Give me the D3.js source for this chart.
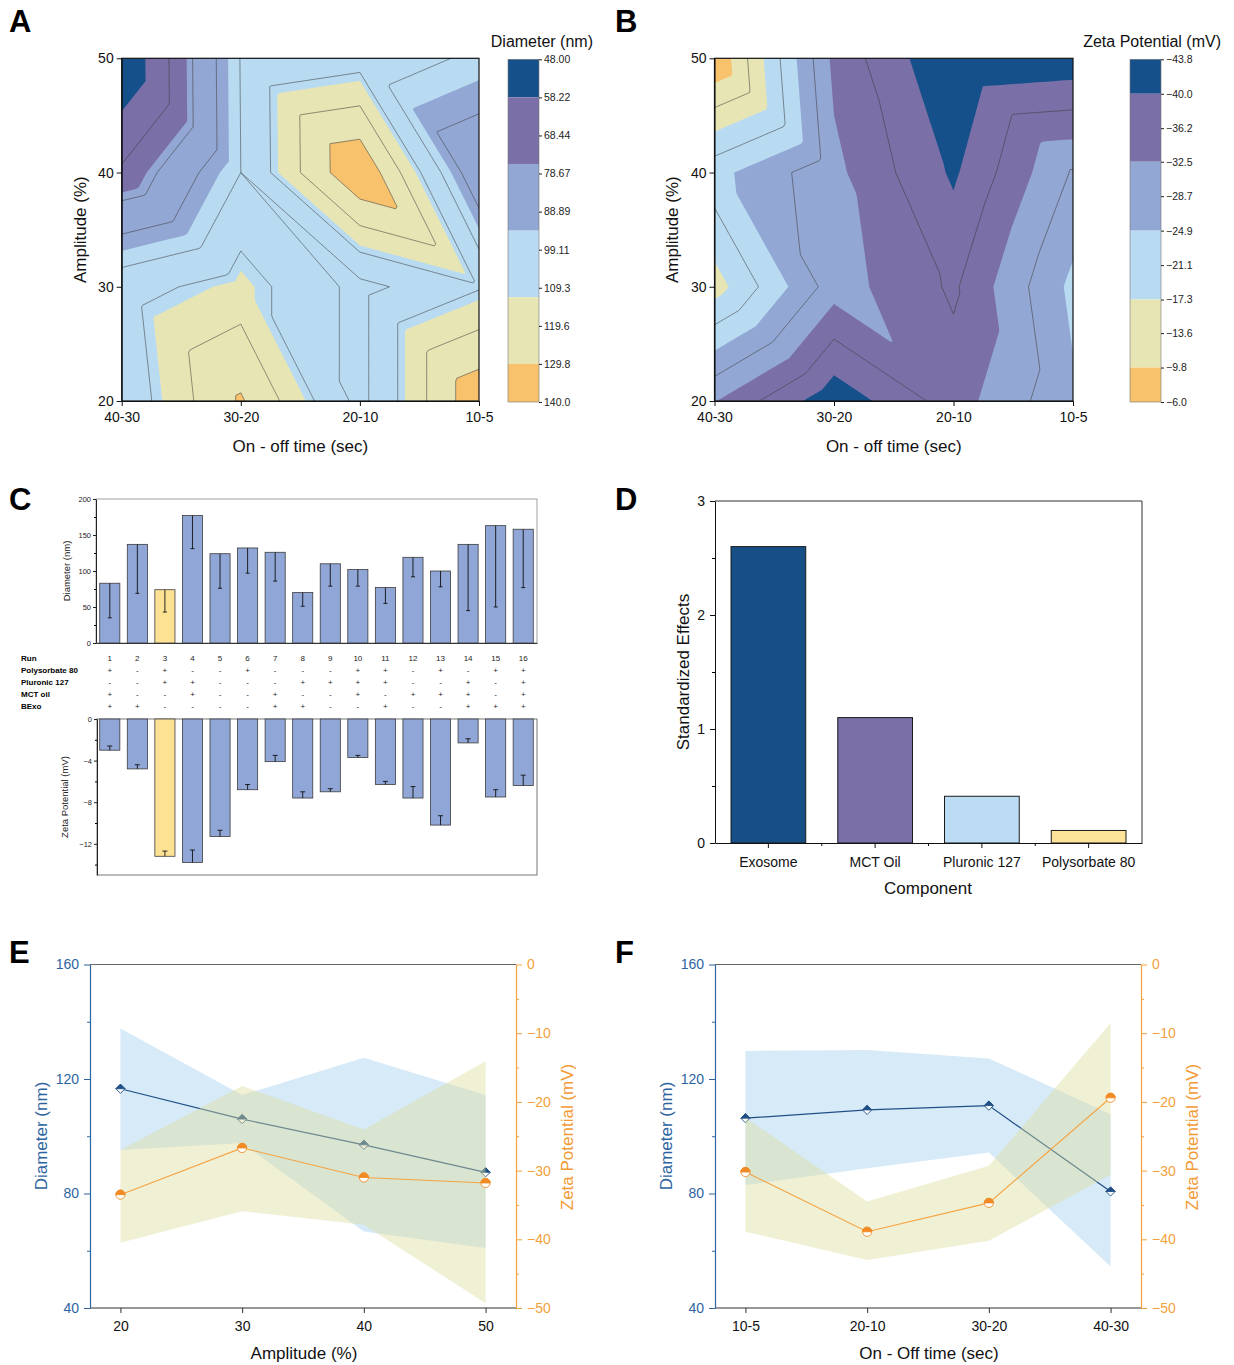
<!DOCTYPE html>
<html>
<head>
<meta charset="utf-8">
<title>Nanoformulation screening</title>
<script src="https://cdn.jsdelivr.net/npm/d3@7"></script>
<style>
  body { margin: 0; background: #fff; }
  svg text { font-family: "Liberation Sans", Arial, Helvetica, sans-serif; }
</style>
</head>
<body>
<svg id="fig" width="1234" height="1365"></svg>
<script>
// ---------- values ----------

// A / B contour maps: rows = amplitude 20,30,40,50 %, columns = on-off time
var timeLabels = ["40-30", "30-20", "20-10", "10-5"];
var ampLevels = [20, 30, 40, 50];
var diamGrid = [
  [102, 131, 96, 138],
  [105, 114, 96, 108.5],
  [70, 99.1, 140, 80],
  [48, 99.5, 105, 97.3]
];
var zetaGrid = [
  [-32.3, -42.7, -34.3, -25.6],
  [-15.5, -30.7, -36.8, -23.9],
  [-23.6, -31.5, -40.6, -28.3],
  [-6.0, -33.5, -43.8, -42.7]
];
var diamScaleTicks = [48.00, 58.22, 68.44, 78.67, 88.89, 99.11, 109.33, 119.56, 129.78, 140.0];
var diamScaleLabels = ["48.00", "58.22", "68.44", "78.67", "88.89", "99.11", "109.3", "119.6", "129.8", "140.0"];
var diamColorStops = [58.22, 76.1, 94.0, 111.9, 129.78];
var diamLineLevels = [68.44, 78.67, 88.89, 99.11, 109.33, 119.56, 129.78];
var zetaScaleTicks = [-43.8, -40.0, -36.2, -32.5, -28.7, -24.9, -21.1, -17.3, -13.6, -9.8, -6.0];
var zetaScaleLabels = ["\u221243.8", "\u221240.0", "\u221236.2", "\u221232.5", "\u221228.7", "\u221224.9",
                       "\u221221.1", "\u221217.3", "\u221213.6", "\u22129.8", "\u22126.0"];
var zetaColorStops = [-40.0, -32.5, -24.9, -17.3, -9.8];
var zetaLineLevels = [-36.2, -28.7, -21.1, -13.6];

// C: 16 screening runs
var runs = [1, 2, 3, 4, 5, 6, 7, 8, 9, 10, 11, 12, 13, 14, 15, 16];
var runDiameter = [83, 137, 74, 177, 124, 132, 126, 70, 110, 102, 77, 119, 100, 137, 163, 158];
var runDiameterErr = [48, 68, 31, 46, 48, 35, 40, 19, 31, 23, 22, 27, 22, 92, 113, 81];
var runZeta = [-3.0, -4.8, -13.2, -13.8, -11.3, -6.8, -4.1, -7.6, -7.0, -3.7, -6.3, -7.6, -10.2, -2.3, -7.5, -6.4];
var runZetaErr = [0.4, 0.4, 0.5, 1.2, 0.6, 0.5, 0.6, 0.6, 0.3, 0.2, 0.3, 1.1, 0.9, 0.4, 0.7, 1.0];
var highlightRun = 3;
var polysorbate80 = ["+", "-", "+", "-", "-", "+", "-", "-", "-", "+", "+", "-", "+", "-", "+", "+"];
var pluronic127 = ["-", "-", "+", "+", "-", "-", "-", "+", "+", "+", "+", "-", "-", "+", "-", "+"];
var mctOil = ["+", "-", "-", "+", "-", "-", "+", "-", "-", "+", "-", "+", "+", "+", "-", "+"];
var bexo = ["+", "+", "-", "-", "-", "-", "+", "+", "-", "-", "+", "-", "-", "+", "+", "+"];

// D: standardized effects
var components = ["Exosome", "MCT Oil", "Pluronic 127", "Polysorbate 80"];
var effects = [2.6, 1.1, 0.41, 0.11];

// E: amplitude sweep
var ampX = [20, 30, 40, 50];
var ampDiam = [116.6, 106, 97, 87.4];
var ampDiamLow = [95.2, 97.6, 66.7, 61];
var ampDiamHigh = [137.6, 114.4, 127.4, 114.4];
var ampZeta = [-33.5, -26.7, -31.0, -31.8];
var ampZetaLow = [-40.5, -35.9, -37.9, -49.3];
var ampZetaHigh = [-27.0, -17.7, -24.0, -14.1];

// F: on-off time sweep
var timeX = ["10-5", "20-10", "30-20", "40-30"];
var timeDiam = [106.3, 109.2, 110.7, 80.7];
var timeDiamLow = [83, 88.8, 94.3, 54.5];
var timeDiamHigh = [129.8, 130.1, 127.2, 107.7];
var timeZeta = [-30.2, -38.9, -34.7, -19.4];
var timeZetaLow = [-38.9, -43.0, -40.2, -30.6];
var timeZetaHigh = [-22.3, -34.5, -29.3, -8.5];

// ---------- styles ----------
var paletteFill = ["#16508a", "#7b6fa8", "#93a7d4", "#b8dbf2", "#e8e5b4", "#f8c16c"];
var componentColors = ["#154f85", "#7b6fa8", "#bcdcf3", "#fde39a"];
var blueDark = "#1f4f86", blueAxis = "#2e64a0", orange = "#f5a443", orangeDark = "#f08a24";

var svg = d3.select("#fig");

function styleAxis(g, color, size) {
  g.select(".domain").attr("stroke", color);
  g.selectAll(".tick line").attr("stroke", color);
  g.selectAll(".tick text").attr("fill", color).attr("font-size", size);
}

function vLabel(txt, cx, cy, size, color) {
  svg.append("text")
    .attr("transform", "translate(" + cx + "," + cy + ") rotate(-90)")
    .attr("text-anchor", "middle").attr("dy", "0.35em")
    .attr("font-size", size).attr("fill", color || "#111")
    .text(txt);
}

function hLabel(txt, cx, cy, size, color) {
  svg.append("text").attr("x", cx).attr("y", cy)
    .attr("text-anchor", "middle").attr("dy", "0.35em")
    .attr("font-size", size).attr("fill", color || "#111")
    .text(txt);
}

function letter(t, x, y) {
  svg.append("text").attr("x", x).attr("y", y)
    .attr("font-size", 31).attr("font-weight", "bold").text(t);
}

// piecewise-linear surface over the 4x4 grid ("\" triangulation), sampled for d3.contours
function triField(grid, n) {
  var vals = new Array(n * n);
  var k = (n - 1) / 3;
  for (var j = 0; j < n; j++) {
    for (var i = 0; i < n; i++) {
      var u = i / k, w = j / k;
      var c = Math.min(2, Math.floor(u)), r = Math.min(2, Math.floor(w));
      var fx = u - c, fy = w - r;
      var tl = grid[3 - r][c], tr = grid[3 - r][c + 1];
      var bl = grid[2 - r][c], br = grid[2 - r][c + 1];
      vals[j * n + i] = fx >= fy
        ? tl + fx * (tr - tl) + fy * (br - tr)
        : tl + fy * (bl - tl) + fx * (br - bl);
    }
  }
  return vals;
}

// ---------- A / B ----------
function contourPanel(o) {
  var n = 121;
  var x = d3.scalePoint().domain(timeLabels).range([o.left, o.right]);
  var y = d3.scaleLinear().domain([20, 50]).range([o.bottom, o.top]);
  var gx = d3.scaleLinear().domain([0.5, n - 0.5]).range([o.left, o.right]);
  var gy = d3.scaleLinear().domain([0.5, n - 0.5]).range([o.top, o.bottom]);
  var path = d3.geoPath(d3.geoTransform({
    point: function(px, py) { this.stream.point(gx(px), gy(py)); }
  }));
  var values = triField(o.grid, n);

  svg.append("clipPath").attr("id", o.id).append("rect")
    .attr("x", o.left).attr("y", o.top)
    .attr("width", o.right - o.left).attr("height", o.bottom - o.top);
  var body = svg.append("g").attr("clip-path", "url(#" + o.id + ")");

  body.append("rect")
    .attr("x", o.left).attr("y", o.top)
    .attr("width", o.right - o.left).attr("height", o.bottom - o.top)
    .attr("fill", paletteFill[0]);

  body.selectAll(".band")
    .data(d3.contours().size([n, n]).thresholds(o.stops)(values))
    .enter().append("path")
    .attr("class", "band")
    .attr("d", path)
    .attr("fill", function(d, i) { return paletteFill[i + 1]; });

  body.selectAll(".iso")
    .data(d3.contours().size([n, n]).thresholds(o.lines)(values))
    .enter().append("path")
    .attr("class", "iso")
    .attr("d", path)
    .attr("fill", "none")
    .attr("stroke", "#3a3a3a")
    .attr("stroke-width", 0.55);

  svg.append("rect")
    .attr("x", o.left).attr("y", o.top)
    .attr("width", o.right - o.left).attr("height", o.bottom - o.top)
    .attr("fill", "none").attr("stroke", "#111").attr("stroke-width", 1.2);

  var ax = svg.append("g")
    .attr("transform", "translate(0," + o.bottom + ")")
    .call(d3.axisBottom(x).tickSize(5).tickSizeOuter(0).tickPadding(6));
  styleAxis(ax, "#111", 14);
  var ay = svg.append("g")
    .attr("transform", "translate(" + o.left + ",0)")
    .call(d3.axisLeft(y).tickValues(ampLevels).tickSize(5).tickSizeOuter(0).tickPadding(3));
  styleAxis(ay, "#111", 14);

  vLabel("Amplitude (%)", o.left - 42, (o.top + o.bottom) / 2, 17);
  hLabel("On - off time (sec)", (o.left + o.right) / 2, 446, 17);

  // colour scale bar
  var lo = o.ticks[0], hi = o.ticks[o.ticks.length - 1];
  var cb = d3.scaleLinear().domain([lo, hi]).range([o.top + 1, o.bottom + 1]);
  var edges = [lo].concat(o.stops, [hi]);
  svg.selectAll(null).data(paletteFill).enter().append("rect")
    .attr("x", o.cbX).attr("width", 31)
    .attr("y", function(d, i) { return cb(edges[i]); })
    .attr("height", function(d, i) { return cb(edges[i + 1]) - cb(edges[i]); })
    .attr("fill", function(d) { return d; });
  svg.append("rect")
    .attr("x", o.cbX).attr("y", cb(lo)).attr("width", 31).attr("height", cb(hi) - cb(lo))
    .attr("fill", "none").attr("stroke", "#777").attr("stroke-width", 0.6);
  var ac = svg.append("g")
    .attr("transform", "translate(" + (o.cbX + 31) + ",0)")
    .call(d3.axisRight(cb).tickValues(o.ticks).tickSize(3).tickPadding(2)
      .tickFormat(function(d, i) { return o.labels[i]; }));
  ac.select(".domain").remove();
  styleAxis(ac, "#222", 10.5);

  svg.append("text").attr("x", o.titleX).attr("y", 47)
    .attr("text-anchor", "end").attr("font-size", 16).attr("fill", "#111")
    .text(o.title);
}

contourPanel({
  id: "clipA", grid: diamGrid, left: 121.7, right: 479, top: 58.3, bottom: 401,
  stops: diamColorStops, lines: diamLineLevels, ticks: diamScaleTicks, labels: diamScaleLabels,
  cbX: 508, title: "Diameter (nm)", titleX: 593
});
contourPanel({
  id: "clipB", grid: zetaGrid, left: 714.5, right: 1073, top: 58.3, bottom: 401,
  stops: zetaColorStops, lines: zetaLineLevels, ticks: zetaScaleTicks, labels: zetaScaleLabels,
  cbX: 1130, title: "Zeta Potential (mV)", titleX: 1221
});

// ---------- C ----------
var cx = d3.scaleBand().domain(runs).range([96, 537]).paddingInner(0.27).paddingOuter(0.135);
var cyTop = d3.scaleLinear().domain([0, 200]).range([643, 499]);
var cyBot = d3.scaleLinear().domain([-15, 0]).range([875, 719]);
var barBlue = "#8fa6d6", barYellow = "#fde293";

svg.append("rect").attr("x", 96).attr("y", cyTop(200)).attr("width", 441).attr("height", cyTop(0) - cyTop(200))
  .attr("fill", "none").attr("stroke", "#8a8a8a").attr("stroke-width", 0.8);
svg.append("rect").attr("x", 97).attr("y", cyBot(0)).attr("width", 440).attr("height", cyBot(-15) - cyBot(0))
  .attr("fill", "none").attr("stroke", "#555").attr("stroke-width", 0.8);

svg.selectAll(".dbar").data(runs).enter().append("rect")
  .attr("class", "dbar")
  .attr("x", function(d) { return cx(d); })
  .attr("width", cx.bandwidth())
  .attr("y", function(d, i) { return cyTop(runDiameter[i]); })
  .attr("height", function(d, i) { return cyTop(0) - cyTop(runDiameter[i]); })
  .attr("fill", function(d) { return d === highlightRun ? barYellow : barBlue; })
  .attr("stroke", "#3c3c3c").attr("stroke-width", 0.8);

svg.selectAll(".derr").data(runs).enter().append("path")
  .attr("class", "derr")
  .attr("d", function(d, i) {
    var xm = cx(d) + cx.bandwidth() / 2, y0 = cyTop(runDiameter[i]), y1 = cyTop(runDiameter[i] - runDiameterErr[i]);
    return "M" + xm + "," + y0 + "V" + y1 + "M" + (xm - 2) + "," + y1 + "H" + (xm + 2);
  })
  .attr("stroke", "#111").attr("stroke-width", 0.9).attr("fill", "none");

svg.selectAll(".zbar").data(runs).enter().append("rect")
  .attr("class", "zbar")
  .attr("x", function(d) { return cx(d); })
  .attr("width", cx.bandwidth())
  .attr("y", cyBot(0))
  .attr("height", function(d, i) { return cyBot(runZeta[i]) - cyBot(0); })
  .attr("fill", function(d) { return d === highlightRun ? barYellow : barBlue; })
  .attr("stroke", "#3c3c3c").attr("stroke-width", 0.8);

svg.selectAll(".zerr").data(runs).enter().append("path")
  .attr("class", "zerr")
  .attr("d", function(d, i) {
    var xm = cx(d) + cx.bandwidth() / 2, y0 = cyBot(runZeta[i]), y1 = cyBot(runZeta[i] + runZetaErr[i]);
    return "M" + xm + "," + y0 + "V" + y1 + "M" + (xm - 2.5) + "," + y1 + "H" + (xm + 2.5);
  })
  .attr("stroke", "#111").attr("stroke-width", 0.9).attr("fill", "none");

var cAx1 = svg.append("g").attr("transform", "translate(96,0)")
  .call(d3.axisLeft(cyTop).tickValues([0, 50, 100, 150, 200]).tickSize(3).tickSizeOuter(0).tickPadding(2));
styleAxis(cAx1, "#222", 7.5);
var cAx1m = svg.append("g").attr("transform", "translate(96,0)")
  .call(d3.axisLeft(cyTop).tickValues([25, 75, 125, 175]).tickSize(2).tickFormat(function() { return ""; }));
cAx1m.select(".domain").remove();
var cAx1b = svg.append("g").attr("transform", "translate(0,643)")
  .call(d3.axisBottom(cx).tickSize(0).tickFormat(function() { return ""; }));
cAx1b.select(".domain").attr("stroke", "#333");

var cAx2 = svg.append("g").attr("transform", "translate(97,0)")
  .call(d3.axisLeft(cyBot).tickValues([0, -4, -8, -12]).tickSize(3).tickSizeOuter(0).tickPadding(2));
styleAxis(cAx2, "#222", 7.5);
var cAx2m = svg.append("g").attr("transform", "translate(97,0)")
  .call(d3.axisLeft(cyBot).tickValues([-2, -6, -10, -14]).tickSize(2).tickFormat(function() { return ""; }));
cAx2m.select(".domain").remove();

vLabel("Diameter (nm)", 67, 571, 9.5, "#222");
vLabel("Zeta Potential (mV)", 65, 797, 9.5, "#222");

// design table between the two bar plots
var tableNames = ["Polysorbate 80", "Pluronic 127", "MCT oil", "BExo"];
var tableRows = [polysorbate80, pluronic127, mctOil, bexo];
var rowY = [661, 673, 685, 697, 709];
svg.append("text").attr("x", 21).attr("y", rowY[0]).attr("font-size", 8).attr("font-weight", "bold").text("Run");
svg.selectAll(".runno").data(runs).enter().append("text")
  .attr("class", "runno")
  .attr("x", function(d) { return cx(d) + cx.bandwidth() / 2; })
  .attr("y", rowY[0]).attr("text-anchor", "middle").attr("font-size", 8).attr("fill", "#222")
  .text(function(d) { return d; });
tableNames.forEach(function(name, r) {
  svg.append("text").attr("x", 21).attr("y", rowY[r + 1])
    .attr("font-size", 8).attr("font-weight", "bold").text(name);
  svg.selectAll(".sign" + r).data(tableRows[r]).enter().append("text")
    .attr("class", "sign" + r)
    .attr("x", function(d, i) { return cx(runs[i]) + cx.bandwidth() / 2; })
    .attr("y", rowY[r + 1]).attr("text-anchor", "middle").attr("font-size", 8).attr("fill", "#222")
    .text(function(d) { return d; });
});

// ---------- D ----------
var dx = d3.scaleBand().domain(components).range([715, 1142]).paddingInner(0.3).paddingOuter(0.15);
var dy = d3.scaleLinear().domain([0, 3]).range([843, 501]);

svg.selectAll(".eff").data(components).enter().append("rect")
  .attr("class", "eff")
  .attr("x", function(d) { return dx(d); })
  .attr("width", dx.bandwidth())
  .attr("y", function(d, i) { return dy(effects[i]); })
  .attr("height", function(d, i) { return dy(0) - dy(effects[i]); })
  .attr("fill", function(d, i) { return componentColors[i]; })
  .attr("stroke", "#1a1a1a").attr("stroke-width", 1);

svg.append("path").attr("d", "M715," + dy(3) + "H1142V" + dy(0))
  .attr("fill", "none").attr("stroke", "#333").attr("stroke-width", 1);
var dAxY = svg.append("g").attr("transform", "translate(715,0)")
  .call(d3.axisLeft(dy).tickValues([0, 1, 2, 3]).tickFormat(d3.format("d"))
    .tickSize(5).tickSizeOuter(0).tickPadding(5));
styleAxis(dAxY, "#111", 14);
var dAxYm = svg.append("g").attr("transform", "translate(715,0)")
  .call(d3.axisLeft(dy).tickValues([0.5, 1.5, 2.5]).tickSize(3).tickFormat(function() { return ""; }));
dAxYm.select(".domain").remove();
var dAxX = svg.append("g").attr("transform", "translate(0,843)")
  .call(d3.axisBottom(dx).tickSize(5).tickSizeOuter(0).tickPadding(9));
styleAxis(dAxX, "#111", 14);
svg.selectAll(".dsep").data(components.slice(1)).enter().append("line")
  .attr("class", "dsep")
  .attr("x1", function(d) { return dx(d) - dx.step() * dx.paddingInner() / 2; })
  .attr("x2", function(d) { return dx(d) - dx.step() * dx.paddingInner() / 2; })
  .attr("y1", 843).attr("y2", 846).attr("stroke", "#111");
vLabel("Standardized Effects", 683, 672, 17);
hLabel("Component", 928, 888, 17);

// ---------- E / F ----------
function halfDiamond(g, px, py, col) {
  var r = 4.6;
  g.append("path")
    .attr("d", "M" + px + "," + (py - r) + "L" + (px + r) + "," + py + "L" + px + "," + (py + r) + "L" + (px - r) + "," + py + "Z")
    .attr("fill", "#fff").attr("stroke", col).attr("stroke-width", 0.9);
  g.append("path")
    .attr("d", "M" + px + "," + (py - r) + "L" + (px + r) + "," + py + "L" + (px - r) + "," + py + "Z")
    .attr("fill", col).attr("stroke", col).attr("stroke-width", 0.9);
}
function halfCircle(g, px, py, col) {
  var r = 4.6;
  g.append("circle").attr("cx", px).attr("cy", py).attr("r", r)
    .attr("fill", "#fff").attr("stroke", col).attr("stroke-width", 0.9);
  g.append("path")
    .attr("d", "M" + (px - r) + "," + py + "A" + r + "," + r + " 0 0 1 " + (px + r) + "," + py + "Z")
    .attr("fill", col).attr("stroke", col).attr("stroke-width", 0.9);
}

function dualPanel(o) {
  var yL = d3.scaleLinear().domain([40, 160]).range([1308, 964.5]);
  var yR = d3.scaleLinear().domain([-50, 0]).range([1308, 964.5]);
  var x = o.x, xs = o.xs;
  var px = function(d, i) { return x(xs[i]); };
  var g = svg.append("g");

  // diameter layer: band, line, markers
  g.append("path").datum(o.dMid)
    .attr("d", d3.area().x(px)
      .y0(function(d, i) { return yL(o.dLow[i]); })
      .y1(function(d, i) { return yL(o.dHigh[i]); }))
    .attr("fill", "#9fcdef").attr("fill-opacity", 0.42);
  g.append("path").datum(o.dMid)
    .attr("d", d3.line().x(px).y(function(d) { return yL(d); }))
    .attr("fill", "none").attr("stroke", blueDark).attr("stroke-width", 1.2);
  o.dMid.forEach(function(d, i) { halfDiamond(g, x(xs[i]), yL(d), blueDark); });

  // zeta layer on top
  g.append("path").datum(o.zMid)
    .attr("d", d3.area().x(px)
      .y0(function(d, i) { return yR(o.zLow[i]); })
      .y1(function(d, i) { return yR(o.zHigh[i]); }))
    .attr("fill", "#dcdc9a").attr("fill-opacity", 0.42);
  g.append("path").datum(o.zMid)
    .attr("d", d3.line().x(px).y(function(d) { return yR(d); }))
    .attr("fill", "none").attr("stroke", orange).attr("stroke-width", 1.1);
  o.zMid.forEach(function(d, i) { halfCircle(g, x(xs[i]), yR(d), orangeDark); });

  svg.append("line").attr("x1", o.left).attr("x2", o.right).attr("y1", 964.5).attr("y2", 964.5)
    .attr("stroke", "#666").attr("stroke-width", 1.2);
  var ab = svg.append("g").attr("transform", "translate(0,1308)")
    .call(d3.axisBottom(x).tickValues(xs).tickSize(5).tickSizeOuter(0).tickPadding(8));
  ab.select(".domain").attr("d", "M" + o.left + ",0H" + o.right).attr("stroke-width", 1.2);
  styleAxis(ab, "#333", 14);
  ab.selectAll(".tick text").attr("fill", "#111");

  var al = svg.append("g").attr("transform", "translate(" + o.left + ",0)")
    .call(d3.axisLeft(yL).tickValues([40, 80, 120, 160]).tickSize(6).tickSizeOuter(0).tickPadding(5));
  styleAxis(al, blueAxis, 14);
  al.select(".domain").attr("stroke-width", 1.2);
  var alm = svg.append("g").attr("transform", "translate(" + o.left + ",0)")
    .call(d3.axisLeft(yL).tickValues([60, 100, 140]).tickSize(3).tickFormat(function() { return ""; }));
  alm.select(".domain").remove();
  alm.selectAll(".tick line").attr("stroke", blueAxis);

  var ar = svg.append("g").attr("transform", "translate(" + o.right + ",0)")
    .call(d3.axisRight(yR).tickValues([-50, -40, -30, -20, -10, 0]).tickSize(6).tickSizeOuter(0).tickPadding(5));
  styleAxis(ar, "#f2a13c", 14);
  ar.select(".domain").attr("stroke-width", 1.2);
  var arm = svg.append("g").attr("transform", "translate(" + o.right + ",0)")
    .call(d3.axisRight(yR).tickValues([-45, -35, -25, -15, -5]).tickSize(3).tickFormat(function() { return ""; }));
  arm.select(".domain").remove();
  arm.selectAll(".tick line").attr("stroke", "#f2a13c");

  vLabel("Diameter (nm)", o.left - 49, 1136, 17, blueAxis);
  vLabel("Zeta Potential (mV)", o.right + 51, 1137, 17, "#f29a36");
  hLabel(o.xTitle, o.titleX, 1353, 17);
}

dualPanel({
  left: 90, right: 516, xs: ampX,
  x: d3.scaleLinear().domain([17.5, 52.5]).range([90, 516]),
  dMid: ampDiam, dLow: ampDiamLow, dHigh: ampDiamHigh,
  zMid: ampZeta, zLow: ampZetaLow, zHigh: ampZetaHigh,
  xTitle: "Amplitude (%)", titleX: 304
});
dualPanel({
  left: 715, right: 1141, xs: timeX,
  x: d3.scalePoint().domain(timeX).range([715, 1141]).padding(0.25),
  dMid: timeDiam, dLow: timeDiamLow, dHigh: timeDiamHigh,
  zMid: timeZeta, zLow: timeZetaLow, zHigh: timeZetaHigh,
  xTitle: "On - Off time (sec)", titleX: 929
});

letter("A", 9, 32);
letter("B", 615, 32);
letter("C", 9, 510);
letter("D", 615, 510);
letter("E", 9, 963);
letter("F", 615, 963);
</script>
</body>
</html>
